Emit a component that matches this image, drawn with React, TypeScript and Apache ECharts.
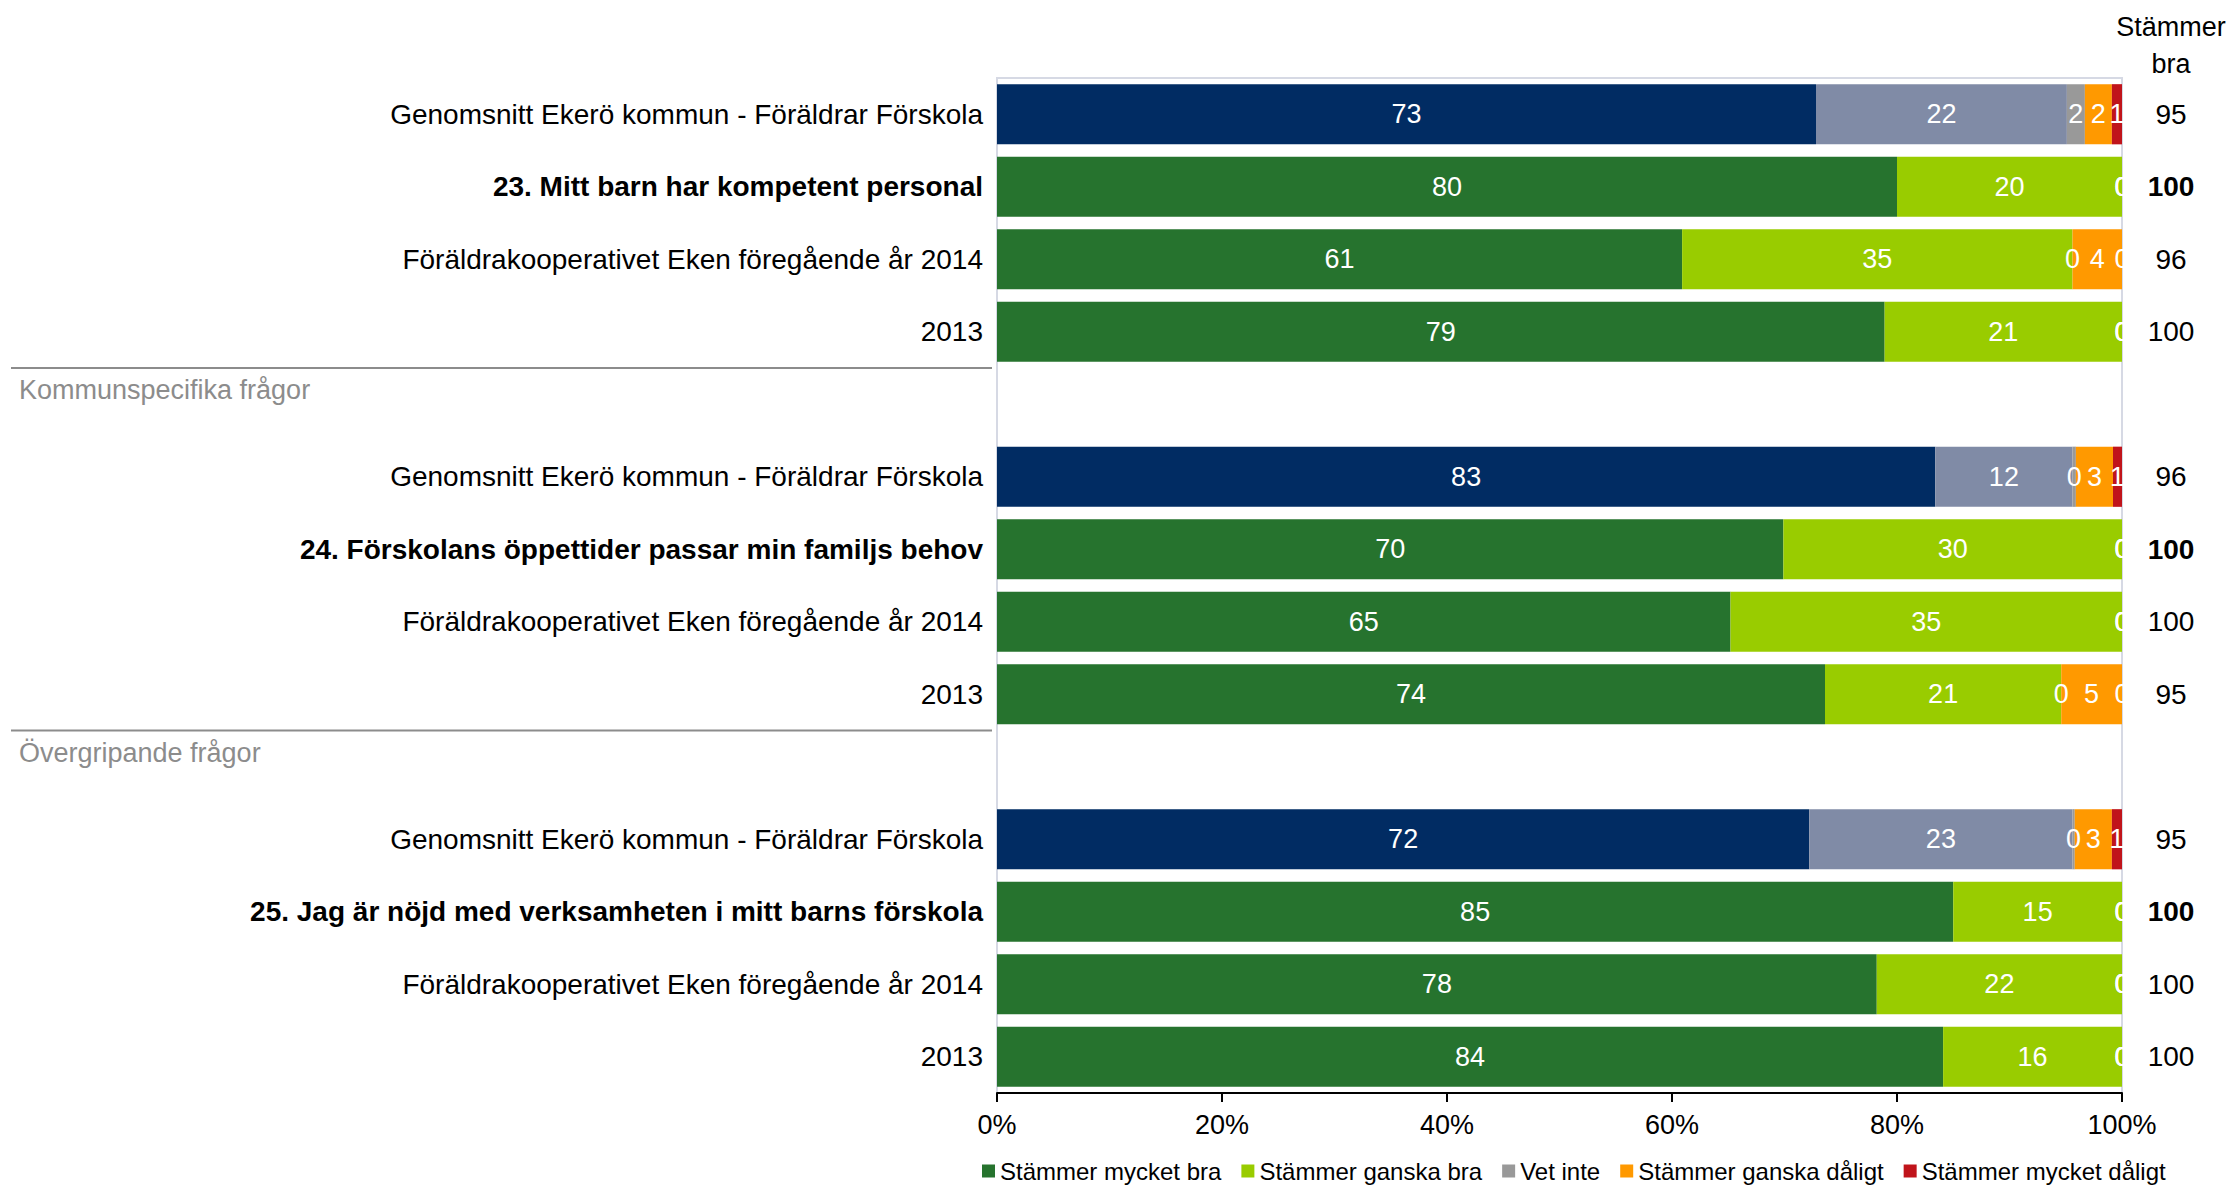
import React, { useEffect, useRef } from "react";
import * as echarts from "echarts";

const categories = [
  "Genomsnitt Ekerö kommun - Föräldrar Förskola",
  "23. Mitt barn har kompetent personal",
  "Föräldrakooperativet Eken föregående år 2014",
  "2013",
  "",
  "Genomsnitt Ekerö kommun - Föräldrar Förskola",
  "24. Förskolans öppettider passar min familjs behov",
  "Föräldrakooperativet Eken föregående år 2014",
  "2013",
  "",
  "Genomsnitt Ekerö kommun - Föräldrar Förskola",
  "25. Jag är nöjd med verksamheten i mitt barns förskola",
  "Föräldrakooperativet Eken föregående år 2014",
  "2013",
];

const seriesNames = [
  "Stämmer mycket bra",
  "Stämmer ganska bra",
  "Vet inte",
  "Stämmer ganska dåligt",
  "Stämmer mycket dåligt",
];

const mycketBra = [72.8, 80.0, 60.9, 78.9, null, 83.4, 69.9, 65.2, 73.6, null, 72.2, 85.0, 78.2, 84.1];
const ganskaBra = [22.3, 20.0, 34.7, 21.1, null, 12.2, 30.1, 34.8, 21.0, null, 23.4, 15.0, 21.8, 15.9];
const vetInte = [1.6, 0, 0, 0, null, 0.3, 0, 0, 0, null, 0.2, 0, 0, 0];
const ganskaDaligt = [2.4, 0, 4.4, 0, null, 3.3, 0, 0, 5.4, null, 3.3, 0, 0, 0];
const mycketDaligt = [0.9, 0, 0, 0, null, 0.8, 0, 0, 0, null, 0.9, 0, 0, 0];

const stammerBra = ["95", "100", "96", "100", "", "96", "100", "100", "95", "", "95", "100", "100", "100"];

const sectionHeaders = ["Kommunspecifika frågor", "Övergripande frågor"];
const xTicks = [0, 20, 40, 60, 80, 100];

const colors = ["#26732E", "#99CC00", "#999999", "#FF9900", "#C0141B"];
const avgColors = ["#012C63", "#808BA6"];

const FONT = "'Liberation Sans', Arial, sans-serif";

export default function App() {
  const ref = useRef<HTMLDivElement>(null);

  useEffect(() => {
    if (!ref.current) return;
    const chart = echarts.init(ref.current, null, { renderer: "svg" });

    const isAvg = (i: number) => categories[i].startsWith("Genomsnitt");
    const isQuestion = (i: number) => /^\d+\./.test(categories[i]);

    const allData = [mycketBra, ganskaBra, vetInte, ganskaDaligt, mycketDaligt];

    const series = allData.map((arr, si) => ({
      name: seriesNames[si],
      type: "bar",
      stack: "total",
      barCategoryGap: "17%",
      itemStyle: { color: colors[si] },
      label: {
        show: true,
        position: "inside",
        color: "#ffffff",
        fontSize: 27,
        fontFamily: FONT,
        formatter: (p: any) => (p.value == null ? "" : String(Math.round(p.value))),
      },
      data: arr.map((v, i) => {
        if (v == null) return "-";
        if (si < 2 && isAvg(i)) return { value: v, itemStyle: { color: avgColors[si] } };
        return v;
      }),
    }));

    const gridTop = 78;
    const gridBottomPx = 1093;
    const rowH = (gridBottomPx - gridTop) / categories.length;
    const headerRows = categories.map((c, i) => (c === "" ? i : -1)).filter((i) => i >= 0);

    const graphics: any[] = [];
    headerRows.forEach((r, k) => {
      const yLine = gridTop + r * rowH;
      graphics.push({
        type: "line",
        shape: { x1: 11, y1: yLine, x2: 992, y2: yLine },
        style: { stroke: "#8C8C8C", lineWidth: 2 },
      });
      graphics.push({
        type: "text",
        x: 19,
        y: yLine + 22,
        style: {
          text: sectionHeaders[k],
          fill: "#8C8C8C",
          font: `27px ${FONT}`,
          textAlign: "left",
          textVerticalAlign: "middle",
        },
      });
    });
    graphics.push({
      type: "text",
      x: 2171,
      y: 45,
      style: {
        text: "Stämmer\nbra",
        fill: "#000",
        font: `27px ${FONT}`,
        lineHeight: 37,
        textAlign: "center",
        textVerticalAlign: "middle",
      },
    });

    chart.setOption({
      animation: false,
      textStyle: { fontFamily: FONT },
      grid: {
        left: 997,
        right: 117,
        top: gridTop,
        bottom: 1187 - gridBottomPx,
        show: true,
        borderColor: "#D6D9E4",
        borderWidth: 2,
        backgroundColor: "transparent",
      },
      legend: {
        left: 982,
        top: 1158,
        padding: 0,
        icon: "rect",
        itemWidth: 13,
        itemHeight: 13,
        itemGap: 20,
        textStyle: { fontSize: 24, lineHeight: 26, color: "#000", fontFamily: FONT },
        data: seriesNames,
      },
      xAxis: {
        type: "value",
        min: xTicks[0],
        max: xTicks[xTicks.length - 1],
        interval: 20,
        splitLine: { show: false },
        axisLine: { show: true, lineStyle: { color: "#000", width: 2 } },
        axisTick: { show: true, length: 9, lineStyle: { color: "#000", width: 2 } },
        axisLabel: {
          fontSize: 27,
          color: "#000",
          margin: 18,
          fontFamily: FONT,
          formatter: "{value}%",
        },
      },
      yAxis: [
        {
          type: "category",
          inverse: true,
          data: categories,
          axisLine: { show: false },
          axisTick: { show: false },
          axisLabel: {
            fontSize: 28,
            color: "#000",
            margin: 14,
            fontFamily: FONT,
            formatter: (v: string, i: number) => (isQuestion(i) ? `{b|${v}}` : v),
            rich: { b: { fontWeight: "bold", fontSize: 28, color: "#000", fontFamily: FONT } },
          },
        },
        {
          type: "category",
          inverse: true,
          position: "right",
          data: stammerBra,
          axisLine: { show: false },
          axisTick: { show: false },
          axisLabel: {
            fontSize: 28,
            color: "#000",
            margin: 49,
            align: "center",
            fontFamily: FONT,
            formatter: (v: string, i: number) => (isQuestion(i) ? `{b|${v}}` : v),
            rich: { b: { fontWeight: "bold", fontSize: 28, color: "#000", fontFamily: FONT } },
          },
        },
      ],
      graphic: graphics,
      series,
    });

    return () => chart.dispose();
  }, []);

  return (
    <div
      ref={ref}
      style={{ position: "absolute", left: 0, top: 0, width: 2239, height: 1187 }}
    />
  );
}
